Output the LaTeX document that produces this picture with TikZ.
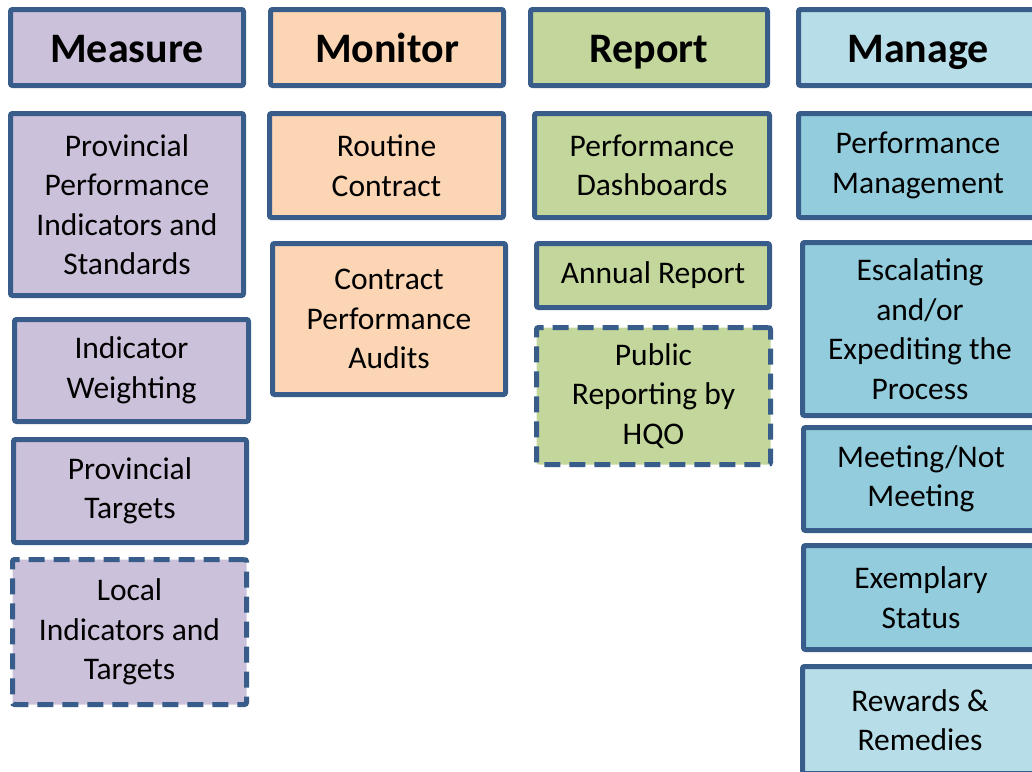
\documentclass[tikz,border=0pt]{standalone}
\usepackage{fontspec}
\setmainfont{Carlito}
\definecolor{edge}{HTML}{385D8A}
\definecolor{purple}{HTML}{CCC1DA}
\definecolor{peach}{HTML}{FCD5B5}
\definecolor{green}{HTML}{C3D69B}
\definecolor{lightblue}{HTML}{B7DEE8}
\definecolor{midblue}{HTML}{93CDDD}

\begin{document}
\begin{tikzpicture}[x=1pt,y=-1pt,
  box/.style={draw=edge, line width=5pt, rounded corners=2pt, align=center,
    inner sep=0pt, font=\fontsize{31.5}{39.5}\selectfont},
  head/.style={box, font=\fontsize{42}{50}\bfseries\selectfont,
    text height=32pt, text depth=3pt, minimum height=76pt},
  dashbox/.style={box, dash pattern=on 16pt off 9pt}]
\useasboundingbox (0,0) rectangle (1032,771);
\clip (0,0) rectangle (1032,771);
% column headers
\node[head, fill=purple, minimum width=233pt] (measure) at (127,47.5) {Measure};
\node[head, fill=peach, minimum width=233pt] (monitor) at (387,47.5) {Monitor};
\node[head, fill=green, minimum width=237pt] (report) at (649,47.5) {Report};
\node[head, fill=lightblue, minimum width=239pt] (manage) at (918,47.5) {Manage};
% measure
\node[box, fill=purple, minimum width=233pt, minimum height=182pt] (ppi) at (127,204.5) {Provincial\\Performance\\Indicators and\\Standards};
\node[box, fill=purple, minimum width=234pt, minimum height=102pt] (weight) at (131.5,370.5) {Indicator\\Weighting};
\node[box, fill=purple, minimum width=233pt, minimum height=103pt] (ptarget) at (130,491) {Provincial\\Targets};
\node[dashbox, fill=purple, minimum width=234pt, minimum height=145pt] (local) at (129.5,632) {Local\\Indicators and\\Targets};
% monitor
\node[box, fill=peach, minimum width=234pt, minimum height=104pt] (routine) at (386.5,165.5) {Routine\\Contract};
\node[box, fill=peach, minimum width=233pt, minimum height=151pt] (audit) at (389,319) {Contract\\Performance\\Audits};
% report
\node[box, fill=green, minimum width=235pt, minimum height=104pt] (dash) at (652,165.5) {Performance\\Dashboards};
\node[box, fill=green, minimum width=233pt, minimum height=64pt] (annual) at (653,275.5) {Annual Report};
\node[dashbox, fill=green, minimum width=234pt, minimum height=137pt] (hqo) at (653.5,396) {Public\\Reporting by\\HQO};
% manage
\node[box, fill=midblue, minimum width=239pt, minimum height=104pt] (pm) at (918,165.5) {Performance\\Management};
\node[box, fill=midblue, minimum width=235pt, minimum height=173pt] (escal) at (920,329) {Escalating\\and/or\\Expediting the\\Process};
\node[box, fill=midblue, minimum width=235pt, minimum height=103pt] (meet) at (921,479) {Meeting/Not\\Meeting};
\node[box, fill=midblue, minimum width=235pt, minimum height=104pt] (exemp) at (921,597.5) {Exemplary\\Status};
\node[box, fill=lightblue, minimum width=235pt, minimum height=107pt] (reward) at (920,720) {Rewards \&\\Remedies};
\end{tikzpicture}
\end{document}
